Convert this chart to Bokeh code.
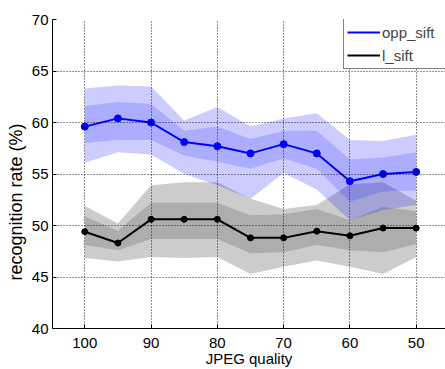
from bokeh.plotting import figure
from bokeh.models import Range1d, FixedTicker, Legend, LegendItem, Title
from bokeh.embed import file_html
from bokeh.resources import INLINE

# ---- data ----
quality = [100, 95, 90, 85, 80, 75, 70, 65, 60, 55, 50]

opp_mean     = [59.6, 60.4, 60.0, 58.1, 57.7, 57.0, 57.9, 57.0, 54.3, 55.0, 55.2]
opp_outer_hi = [63.3, 63.6, 63.5, 60.2, 61.5, 59.6, 60.4, 60.9, 58.3, 58.2, 58.8]
opp_inner_hi = [61.6, 62.0, 61.8, 59.2, 59.6, 58.4, 59.2, 59.2, 56.4, 56.6, 57.1]
opp_inner_lo = [58.0, 58.3, 58.3, 56.8, 56.2, 55.5, 56.5, 55.5, 52.3, 53.3, 53.4]
opp_outer_lo = [56.1, 57.1, 56.9, 55.0, 53.9, 52.6, 55.1, 53.5, 50.5, 51.5, 52.0]

l_mean     = [49.4, 48.3, 50.6, 50.6, 50.6, 48.8, 48.8, 49.45, 49.0, 49.75, 49.75]
l_outer_hi = [51.9, 50.2, 53.9, 54.2, 54.2, 52.6, 51.6, 52.0, 54.0, 54.2, 52.4]
l_inner_hi = [50.9, 49.5, 52.2, 52.2, 52.2, 51.0, 51.1, 51.6, 50.5, 51.8, 51.4]
l_inner_lo = [48.1, 47.6, 48.7, 48.7, 48.7, 47.3, 47.4, 48.1, 47.6, 47.4, 48.2]
l_outer_lo = [46.85, 46.5, 46.95, 46.85, 46.95, 45.3, 46.0, 46.6, 46.0, 45.3, 46.95]

x_ticks = [50, 60, 70, 80, 90, 100]
y_ticks = [40, 45, 50, 55, 60, 65, 70]

FONT = "Liberation Sans"

p = figure(width=445, height=369,
           x_range=Range1d(104.87, 45.58), y_range=Range1d(40, 70),
           output_backend="svg", toolbar_location=None,
           min_border_left=52, min_border_right=0,
           min_border_top=19, min_border_bottom=40)
p.outline_line_color = None
p.background_fill_color = "white"

# bands (gray first, blue on top)
p.varea(x=quality, y1=l_outer_lo, y2=l_outer_hi, fill_color="black", fill_alpha=0.2)
p.varea(x=quality, y1=l_inner_lo, y2=l_inner_hi, fill_color="black", fill_alpha=0.15)
p.varea(x=quality, y1=opp_outer_lo, y2=opp_outer_hi, fill_color="blue", fill_alpha=0.2)
p.varea(x=quality, y1=opp_inner_lo, y2=opp_inner_hi, fill_color="blue", fill_alpha=0.15)

opp_line = p.line(quality, opp_mean, line_color="blue", line_width=2)
p.scatter(quality, opp_mean, size=7, fill_color="blue", line_color="blue")
l_line = p.line(quality, l_mean, line_color="black", line_width=2)
p.scatter(quality, l_mean, size=6, fill_color="black", line_color="black")

# axes
p.xaxis.ticker = FixedTicker(ticks=x_ticks)
p.yaxis.ticker = FixedTicker(ticks=y_ticks)
p.xgrid.ticker = FixedTicker(ticks=x_ticks)
p.ygrid.ticker = FixedTicker(ticks=y_ticks)
for g in (p.xgrid, p.ygrid):
    g.grid_line_color = "black"
    g.grid_line_dash = "1 2"
    g.grid_line_width = 1
    g.grid_line_alpha = 0.85
    g.level = "glyph"

for ax in (p.xaxis, p.yaxis):
    ax.axis_line_color = "black"
    ax.major_tick_in = 4
    ax.major_tick_out = 0
    ax.minor_tick_line_color = None
    ax.major_label_text_font = FONT
    ax.major_label_text_font_size = "15px"
    ax.major_label_text_color = "black"
    ax.axis_label_text_font = FONT
    ax.axis_label_text_font_size = "15px"
    ax.axis_label_text_font_style = "normal"
    ax.axis_label_text_color = "black"

p.xaxis.axis_label = "JPEG quality"
p.xaxis.major_label_standoff = 9
p.xaxis.axis_label_standoff = -1
p.yaxis.major_label_standoff = 4

ylab = Title(text="recognition rate (%)", align="left", offset=48,
             text_font=FONT, text_font_size="18px", text_font_style="normal",
             text_color="black", standoff=6)
p.add_layout(ylab, "left")

legend = Legend(items=[LegendItem(label="opp_sift", renderers=[opp_line]),
                       LegendItem(label="l_sift", renderers=[l_line])],
                location=(291, 259))
legend.border_line_color = "black"
legend.border_line_width = 1
legend.background_fill_alpha = 1
legend.label_text_font = FONT
legend.label_text_font_size = "15px"
legend.glyph_width = 33
legend.glyph_height = 20
legend.label_height = 20
legend.label_width = 60
legend.padding = 3
legend.spacing = 3
legend.margin = 0
legend.label_standoff = 2
p.add_layout(legend)

open("out.html", "w").write(file_html(p, INLINE))
